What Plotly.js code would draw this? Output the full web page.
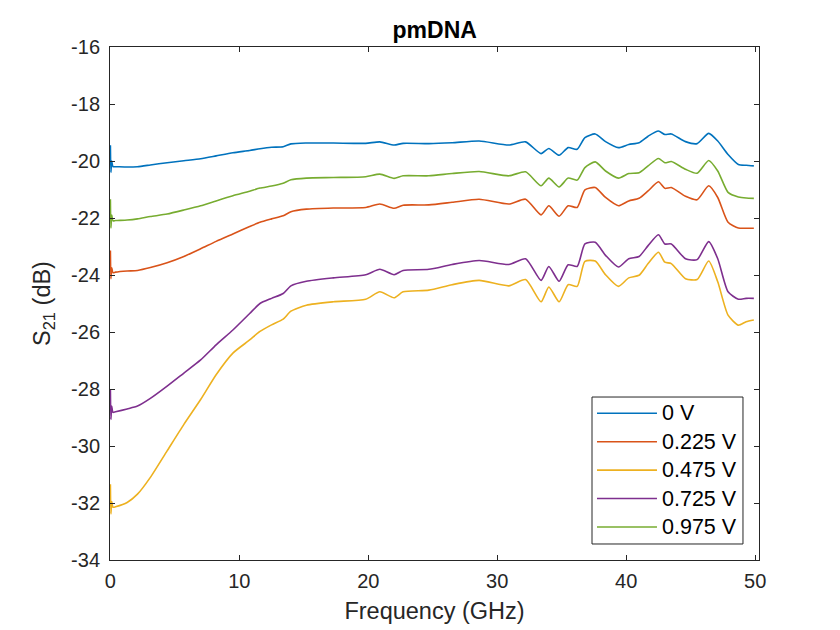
<!DOCTYPE html>
<html>
<head>
<meta charset="utf-8">
<script src="https://cdn.plot.ly/plotly-3.0.1.min.js"></script>
<style>html,body{margin:0;padding:0;background:#fff;}#chart{width:840px;height:630px;}</style>
</head>
<body>
<div id="chart"></div>
<script>
// Frequency grid (GHz)
const freq = [0, 0.04, 0.1, 0.2, 0.4, 1.3, 2.1, 3.1, 4.4, 5.7, 7.0, 8.2, 9.5, 10.8, 11.6, 12.5, 13.4, 14.0, 15.2, 17.3, 19.8, 20.9, 22.0, 22.7, 24.7, 26.5, 28.6, 30.9, 32.2, 33.4, 34.0, 34.8, 35.5, 36.2, 36.8, 37.6, 38.4, 39.4, 40.2, 41.0, 41.7, 42.5, 43.0, 43.5, 44.6, 45.5, 46.4, 47.1, 47.9, 48.7, 49.3, 49.9];

const s0V = [-19.45, -20.4, -20.0, -20.2, -20.2, -20.21, -20.2, -20.14, -20.06, -19.99, -19.92, -19.82, -19.71, -19.63, -19.57, -19.52, -19.5, -19.4, -19.37, -19.37, -19.38, -19.33, -19.44, -19.38, -19.39, -19.36, -19.3, -19.44, -19.33, -19.74, -19.56, -19.8, -19.53, -19.59, -19.18, -19.05, -19.32, -19.53, -19.42, -19.36, -19.13, -18.95, -19.07, -19.05, -19.32, -19.39, -19.03, -19.3, -19.77, -20.12, -20.15, -20.17];

const s0225V = [-23.14, -24.13, -23.75, -23.92, -23.9, -23.86, -23.84, -23.74, -23.57, -23.35, -23.08, -22.82, -22.56, -22.3, -22.15, -22.03, -21.92, -21.78, -21.69, -21.65, -21.63, -21.51, -21.66, -21.55, -21.54, -21.45, -21.34, -21.51, -21.34, -21.89, -21.57, -21.94, -21.57, -21.63, -21.01, -20.93, -21.28, -21.57, -21.4, -21.31, -21.05, -20.73, -20.96, -20.93, -21.24, -21.36, -20.87, -21.28, -22.15, -22.35, -22.36, -22.36];

const s0475V = [-31.34, -32.38, -31.95, -32.15, -32.13, -31.98, -31.69, -31.1, -30.17, -29.24, -28.37, -27.5, -26.74, -26.28, -25.98, -25.75, -25.55, -25.27, -25.06, -24.94, -24.85, -24.59, -24.8, -24.59, -24.53, -24.34, -24.19, -24.38, -24.16, -24.94, -24.42, -24.94, -24.34, -24.4, -23.52, -23.51, -23.99, -24.4, -24.1, -24.01, -23.6, -23.2, -23.55, -23.6, -24.13, -24.16, -23.51, -24.24, -25.41, -25.76, -25.64, -25.58];

const s0725V = [-28.02, -29.07, -28.6, -28.82, -28.8, -28.7, -28.6, -28.33, -27.9, -27.44, -26.98, -26.45, -25.93, -25.35, -25.0, -24.82, -24.65, -24.38, -24.22, -24.1, -23.99, -23.8, -23.99, -23.84, -23.8, -23.63, -23.49, -23.63, -23.43, -24.19, -23.7, -24.22, -23.64, -23.7, -22.91, -22.85, -23.31, -23.72, -23.43, -23.35, -22.97, -22.59, -22.91, -22.91, -23.43, -23.46, -22.83, -23.43, -24.59, -24.85, -24.82, -24.82];

const s0975V = [-21.34, -22.35, -21.9, -22.1, -22.09, -22.07, -22.03, -21.95, -21.86, -21.72, -21.57, -21.4, -21.22, -21.06, -20.95, -20.88, -20.78, -20.66, -20.6, -20.58, -20.55, -20.46, -20.61, -20.52, -20.52, -20.44, -20.37, -20.52, -20.38, -20.87, -20.6, -20.91, -20.6, -20.67, -20.23, -20.03, -20.35, -20.6, -20.44, -20.41, -20.17, -19.91, -20.06, -20.02, -20.29, -20.43, -19.98, -20.35, -21.1, -21.26, -21.3, -21.31];

const seriesNames = ['0 V', '0.225 V', '0.475 V', '0.725 V', '0.975 V'];
const seriesValues = [s0V, s0225V, s0475V, s0725V, s0975V];
const colors = ['#0072BD', '#D95319', '#EDB120', '#7E2F8E', '#77AC30'];

const xTicks = [0, 10, 20, 30, 40, 50];
const yTicks = [-34, -32, -30, -28, -26, -24, -22, -20, -18, -16];

const FONT = 'Liberation Sans, Arial, Helvetica, sans-serif';
const LINE_W = 1.6;

const traces = seriesNames.map((name, i) => ({
  type: 'scatter',
  mode: 'lines',
  name: name,
  x: freq,
  y: seriesValues[i],
  showlegend: false,
  line: {color: colors[i], width: LINE_W, shape: 'spline', smoothing: 0.6}
}));

// Legend box drawn in paper coordinates (MATLAB-style, long line samples)
const legBox = {x0: 0.7427, x1: 0.9753, y0: 0.0312, y1: 0.3177};
const legRowTop = 0.2860, legRowStep = 0.0554;
const legLineX0 = 0.7504, legLineX1 = 0.8428, legTextX = 0.8480;

const shapes = [{
  type: 'rect', xref: 'paper', yref: 'paper',
  x0: legBox.x0, x1: legBox.x1, y0: legBox.y0, y1: legBox.y1,
  line: {color: '#262626', width: 1}, fillcolor: '#ffffff', layer: 'above'
}];
const annotations = [];
seriesNames.forEach((name, i) => {
  const yy = legRowTop - i * legRowStep;
  shapes.push({
    type: 'line', xref: 'paper', yref: 'paper',
    x0: legLineX0, x1: legLineX1, y0: yy, y1: yy,
    line: {color: colors[i], width: LINE_W}, layer: 'above'
  });
  annotations.push({
    xref: 'paper', yref: 'paper', x: legTextX, y: yy,
    xanchor: 'left', yanchor: 'middle', showarrow: false,
    text: name, font: {family: FONT, size: 21.5, color: '#000'}
  });
});

const axisCommon = {
  showline: true, linecolor: '#262626', linewidth: 1,
  mirror: 'ticks', ticks: 'inside', ticklen: 5, tickwidth: 1, tickcolor: '#262626',
  showgrid: false, zeroline: false,
  tickfont: {family: FONT, size: 20, color: '#262626'}
};

const layout = {
  width: 840, height: 630,
  paper_bgcolor: '#ffffff', plot_bgcolor: '#ffffff',
  margin: {l: 110, r: 81, t: 47, b: 70},
  showlegend: false,
  title: {text: '<b>pmDNA</b>', font: {family: FONT, size: 23, color: '#000'}, x: 0.5175, xanchor: 'center', y: 0.952, yanchor: 'middle'},
  xaxis: Object.assign({}, axisCommon, {
    range: [-0.03, 50.3], tickvals: xTicks, ticktext: xTicks.map(String),
    ticklabelstandoff: 3,
    title: {text: 'Frequency (GHz)', font: {family: FONT, size: 23.5, color: '#262626'}, standoff: 11}
  }),
  yaxis: Object.assign({}, axisCommon, {
    range: [-34, -16], tickvals: yTicks, ticktext: yTicks.map(String),
    ticklabelstandoff: 5,
    title: {text: 'S<sub>21</sub> (dB)', font: {family: FONT, size: 23.5, color: '#262626'}, standoff: 13}
  }),
  shapes: shapes,
  annotations: annotations
};

Plotly.newPlot('chart', traces, layout, {displayModeBar: false, staticPlot: true});
</script>
</body>
</html>
